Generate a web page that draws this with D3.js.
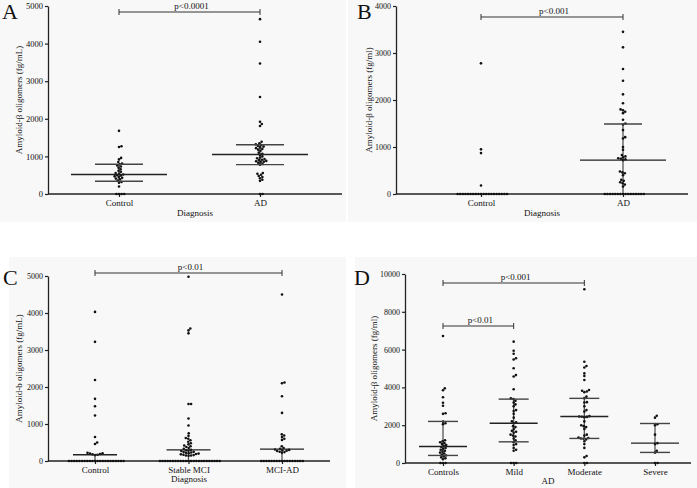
<!DOCTYPE html>
<html><head><meta charset="utf-8">
<script src="https://cdn.jsdelivr.net/npm/d3@7"></script>
<style>body{margin:0;background:#fff}svg{display:block}text{font-family:"Liberation Serif","Times New Roman",serif;fill:#111}</style>
</head><body>
<script>
// ---------- DATA ----------
const catsA = ["Control", "AD"];
const aControl = [1680,1270,1250,960,920,850,810,790,760,730,700,660,620,590,560,540,520,500,490,470,450,430,410,390,360,320,300,200,0,0,0,0];
const aAD = [4650,4050,3470,2580,1920,1860,1810,1390,1350,1320,1300,1280,1260,1240,1220,1200,1180,1150,1100,1070,1040,1000,970,950,930,910,900,880,870,860,850,830,800,780,560,540,510,480,450,420,380,350,0,0];
const aMedian = [520, 1050], aQ1 = [340, 780], aQ3 = [790, 1310];
const ticksA = [0,1000,2000,3000,4000,5000];

const catsB = ["Control", "AD"];
const bControl = [2780,950,870,180,0,0,0,0,0,0,0,0,0,0,0,0,0,0,0,0,0,0,0,0];
const bAD = [3450,3120,2660,2410,2120,1930,1800,1780,1750,1720,1580,1500,1480,1360,1210,1180,1000,940,830,800,780,760,750,740,720,480,460,440,400,300,280,250,230,200,160,0,0,0,0,0,0,0,0,0,0,0,0,0,0,0,0];
const bMedian = [0, 720], bQ1 = [0, 0], bQ3 = [0, 1490];
const ticksB = [0,1000,2000,3000,4000];

const catsC = ["Control", "Stable MCI", "MCI-AD"];
const cControl = [4030,3220,2190,1680,1480,1230,650,500,460,220,210,200,190,180,170,160,0,0,0,0,0,0,0,0,0,0,0,0,0,0,0,0,0,0,0,0,0,0];
const cStable = [4980,3580,3530,3450,1540,1540,1150,960,750,680,620,600,560,520,480,450,420,400,380,350,330,300,290,280,270,250,240,230,220,210,200,190,180,170,160,150,150,140,0,0,0,0,0,0,0,0,0,0,0,0,0,0,0,0,0,0,0,0,0,0,0,0];
const cMCIAD = [4500,2120,2100,1750,1300,720,690,650,600,570,400,350,330,310,300,290,280,270,250,240,220,0,0,0,0,0,0,0,0,0,0,0,0,0,0,0,0,0];
const cMedian = [170, 300, 320], cQ1 = [0, 0, 0], cQ3 = [170, 300, 320];
const ticksC = [0,1000,2000,3000,4000,5000];

const catsD = ["Controls", "Mild", "Moderate", "Severe"];
const dControls = [6720,3950,3850,3480,3190,3030,2630,2600,2190,2100,2050,1200,1150,1100,1050,1000,950,900,850,800,750,700,650,600,550,500,450,400,350,300,250,200,0,0,0];
const dMild = [6420,5940,5780,5540,5480,5010,4650,4580,3900,3420,3380,3300,3200,3100,3000,2800,2750,2600,2400,2200,2150,2100,1950,1900,1800,1700,1650,1600,1500,1450,1400,1300,1200,1100,1000,950,800,700,650,0,0,0];
const dModerate = [9190,5360,5130,5050,4740,4600,4390,3860,3820,3780,3750,3510,3430,3220,3200,3000,2800,2720,2480,2460,2450,2440,2420,2200,2000,1950,1900,1800,1500,1450,1350,1320,1300,1280,1250,1150,1000,800,370,300,0,0];
const dSevere = [2500,2400,2050,2000,1500,1050,1000,650,550,0,0];
const dMedian = [870, 2100, 2460, 1050], dQ1 = [400, 1120, 1300, 560], dQ3 = [2200, 3380, 3420, 2090];
const ticksD = [0,2000,4000,6000,8000,10000];

// ---------- DRAW ----------
const W = 697, H = 488;
const svg = d3.select("body").append("svg").attr("width", W).attr("height", H);

// faint panel backgrounds
[[0,0,346,222],[348,0,349,222],[9,257,337,231],[355,257,342,231]].forEach(r =>
  svg.append("rect").attr("x", r[0]).attr("y", r[1]).attr("width", r[2]).attr("height", r[3]).attr("fill", "#f8f8f8"));

function swarm(vals, y, d) {
  const pts = vals.map(v => ({v, y: y(v)})).sort((a, b) => b.y - a.y);
  const placed = [];
  pts.forEach(p => {
    const cands = [0];
    placed.forEach(q => {
      const dy = Math.abs(q.y - p.y);
      if (dy < d) { const dx = Math.sqrt(d*d - dy*dy); cands.push(q.dx + dx, q.dx - dx); }
    });
    cands.sort((a, b) => Math.abs(a) - Math.abs(b) || b - a);
    for (const c of cands) {
      if (placed.every(q => { const dy = q.y - p.y, dx = q.dx - c; return dx*dx + dy*dy >= d*d - 1e-6; })) { p.dx = c; break; }
    }
    placed.push(p);
  });
  return pts;
}

function panel(cfg) {
  const g = svg.append("g");
  const y = d3.scaleLinear().domain([0, cfg.yMax]).range([cfg.y0, cfg.yTop]);
  const x = d3.scalePoint().domain(cfg.cats).range([cfg.xFirst, cfg.xLast]);

  // y axis
  const ya = g.append("g").attr("transform", `translate(${cfg.axisX},0)`)
    .call(d3.axisLeft(y).tickValues(cfg.ticks).tickSize(3).tickSizeOuter(0).tickPadding(2).tickFormat(d3.format("d")));
  ya.select(".domain").attr("stroke", "#222").attr("stroke-width", 1.3);
  ya.selectAll(".tick line").attr("stroke", "#222").attr("stroke-width", 1.2);
  ya.selectAll(".tick text").attr("font-size", cfg.tickFont).attr("font-family", "Liberation Serif").attr("fill", "#111");

  // x axis
  g.append("line").attr("x1", cfg.axisX).attr("x2", cfg.xRight).attr("y1", cfg.y0).attr("y2", cfg.y0)
    .attr("stroke", "#222").attr("stroke-width", 1.3);
  const xa = g.append("g").attr("transform", `translate(0,${cfg.y0})`)
    .call(d3.axisBottom(x).tickSize(3).tickSizeOuter(0).tickPadding(cfg.labelPad));
  xa.select(".domain").remove();
  xa.selectAll(".tick line").attr("stroke", "#222").attr("stroke-width", 1.2);
  xa.selectAll(".tick text").attr("font-size", 9).attr("font-family", "Liberation Serif").attr("fill", "#111");

  // titles
  g.append("text").attr("x", (cfg.axisX + cfg.xRight) / 2).attr("y", cfg.xTitleY)
    .attr("text-anchor", "middle").attr("font-size", 9).text(cfg.xTitle);
  g.append("text").attr("transform", `translate(${cfg.yTitleX},${(cfg.y0 + cfg.yTop) / 2}) rotate(-90)`)
    .attr("text-anchor", "middle").attr("font-size", 9).text(cfg.yTitle);
  g.append("text").attr("x", cfg.letterX).attr("y", cfg.letterY).attr("font-size", 22).text(cfg.letter);

  // error bars: vertical
  cfg.cats.forEach((c, i) => {
    const cx = x(c);
    if (cfg.q3[i] > cfg.q1[i]) {
      g.append("line").attr("x1", cx).attr("x2", cx).attr("y1", y(cfg.q1[i])).attr("y2", y(cfg.q3[i]))
        .attr("stroke", "#555").attr("stroke-width", 1.3);
    }
  });

  // points
  cfg.groups.forEach((vals, i) => {
    const cx = x(cfg.cats[i]);
    const pts = swarm(vals, y, 2.6);
    g.selectAll(null).data(pts).enter().append("circle")
      .attr("cx", p => cx + p.dx).attr("cy", p => p.y).attr("r", 1.3).attr("fill", "#111");
  });

  cfg.cats.forEach((c, i) => {
    const cx = x(c);
    if (cfg.median[i] > 0) {
      g.append("line").attr("x1", cx - cfg.medHalf).attr("x2", cx + cfg.medHalf)
        .attr("y1", y(cfg.median[i])).attr("y2", y(cfg.median[i])).attr("stroke", "#222").attr("stroke-width", 1.4);
    }
    if (cfg.q1[i] > 0) {
      g.append("line").attr("x1", cx - cfg.iqrHalf).attr("x2", cx + cfg.iqrHalf)
        .attr("y1", y(cfg.q1[i])).attr("y2", y(cfg.q1[i])).attr("stroke", "#444").attr("stroke-width", 1.4);
    }
    if (cfg.q3[i] > cfg.median[i]) {
      g.append("line").attr("x1", cx - cfg.iqrHalf).attr("x2", cx + cfg.iqrHalf)
        .attr("y1", y(cfg.q3[i])).attr("y2", y(cfg.q3[i])).attr("stroke", "#444").attr("stroke-width", 1.4);
    }
  });

  // significance brackets
  cfg.brackets.forEach(b => {
    const x1 = x(b.from), x2 = x(b.to);
    g.append("line").attr("x1", x1).attr("x2", x2).attr("y1", b.y).attr("y2", b.y).attr("stroke", "#333").attr("stroke-width", 1.2);
    [x1, x2].forEach(xx => g.append("line").attr("x1", xx).attr("x2", xx).attr("y1", b.y - 3).attr("y2", b.y + 3)
      .attr("stroke", "#333").attr("stroke-width", 1));
    g.append("text").attr("x", (x1 + x2) / 2 + 2).attr("y", b.y - 3).attr("text-anchor", "middle")
      .attr("font-size", 9).text(b.label);
  });
}

panel({cats: catsA, groups: [aControl, aAD], median: aMedian, q1: aQ1, q3: aQ3, ticks: ticksA, yMax: 5000, tickFont: 8.5,
  axisX: 48, xRight: 342, y0: 194, yTop: 6, xFirst: 119, xLast: 260, labelPad: 3, xTitleY: 216, xTitle: "Diagnosis",
  yTitleX: 22, yTitle: "Amyloid-β oligomers (fg/mL)", letter: "A", letterX: 2, letterY: 19, medHalf: 48, iqrHalf: 24,
  brackets: [{from: "Control", to: "AD", y: 12, label: "p<0.0001"}]});

panel({cats: catsB, groups: [bControl, bAD], median: bMedian, q1: bQ1, q3: bQ3, ticks: ticksB, yMax: 4000, tickFont: 8,
  axisX: 396, xRight: 688, y0: 194, yTop: 6, xFirst: 481, xLast: 623, labelPad: 3, xTitleY: 216, xTitle: "Diagnosis",
  yTitleX: 372, yTitle: "Amyloid-β oligomers (fg/ml)", letter: "B", letterX: 357, letterY: 19, medHalf: 43, iqrHalf: 19,
  brackets: [{from: "Control", to: "AD", y: 17, label: "p<0.001"}]});

panel({cats: catsC, groups: [cControl, cStable, cMCIAD], median: cMedian, q1: cQ1, q3: cQ3, ticks: ticksC, yMax: 5000, tickFont: 8,
  axisX: 48, xRight: 330, y0: 461, yTop: 276, xFirst: 95, xLast: 282, labelPad: 3, xTitleY: 482, xTitle: "Diagnosis",
  yTitleX: 22, yTitle: "Amyloid-b oligomers (fg/mL)", letter: "C", letterX: 3, letterY: 285, medHalf: 22, iqrHalf: 14,
  brackets: [{from: "Control", to: "MCI-AD", y: 273, label: "p<0.01"}]});

panel({cats: catsD, groups: [dControls, dMild, dModerate, dSevere], median: dMedian, q1: dQ1, q3: dQ3, ticks: ticksD, yMax: 10000, tickFont: 8,
  axisX: 405, xRight: 691, y0: 463, yTop: 274, xFirst: 443, xLast: 655, labelPad: 3, xTitleY: 484, xTitle: "AD",
  yTitleX: 377, yTitle: "Amyloid-β oligomers (fg/ml)", letter: "D", letterX: 354, letterY: 285, medHalf: 24, iqrHalf: 15,
  brackets: [{from: "Controls", to: "Moderate", y: 283, label: "p<0.001"}, {from: "Controls", to: "Mild", y: 326, label: "p<0.01"}]});
</script>
</body></html>
